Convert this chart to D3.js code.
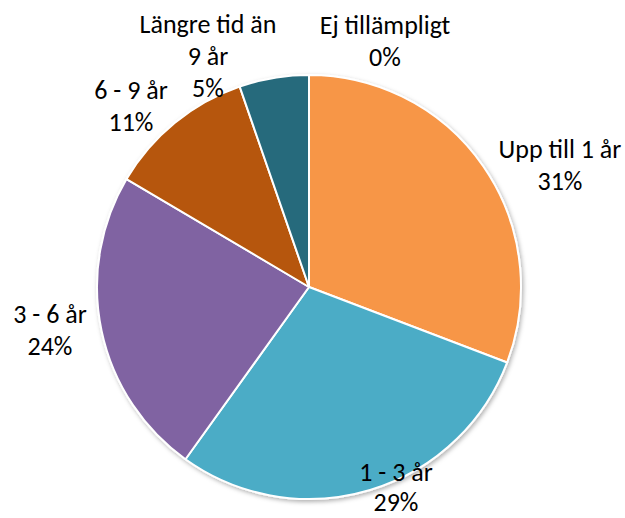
<!DOCTYPE html>
<html>
<head>
<meta charset="utf-8">
<script src="https://cdn.jsdelivr.net/npm/d3@7/dist/d3.min.js"></script>
<style>
  html, body { margin: 0; padding: 0; background: #ffffff; }
  svg { display: block; }
  text { font-family: Carlito, Lato, "Liberation Sans", sans-serif; fill: #000; }
</style>
</head>
<body>
<svg id="chart" width="625" height="518"></svg>
<script>
const categories = ["Upp till 1 år", "1 - 3 år", "3 - 6 år", "6 - 9 år", "Längre tid än 9 år", "Ej tillämpligt"];
const values = [30.8, 29.1, 23.6, 11.2, 5.3, 0];
const percentLabels = ["31%", "29%", "24%", "11%", "5%", "0%"];
const labelLines = [["Upp till 1 år"], ["1 - 3 år"], ["3 - 6 år"], ["6 - 9 år"], ["Längre tid än", "9 år"], ["Ej tillämpligt"]];
const colors = ["#F79646", "#4BACC6", "#8064A2", "#B65708", "#276A7C", "#772C2A"];

// layout (label anchor: center x, first baseline y, line height)
const labelPos = [[560, 158, 32], [396, 481, 30], [50, 323, 32], [131, 99, 32], [208, 33, 32], [385, 34, 32]];
const cx = 309, cy = 287, R = 212;

const svg = d3.select("#chart");
const defs = svg.append("defs");
const f = defs.append("filter").attr("id", "sh").attr("x", "-10%").attr("y", "-10%").attr("width", "120%").attr("height", "120%");
f.append("feDropShadow").attr("dx", 1.5).attr("dy", 2).attr("stdDeviation", 2).attr("flood-color", "#000").attr("flood-opacity", 0.3);

const pie = d3.pie().sort(null).value(d => d);
const arc = d3.arc().innerRadius(0).outerRadius(R);
const arcs = pie(values);

const g = svg.append("g").attr("transform", `translate(${cx},${cy})`);
g.append("g").attr("filter", "url(#sh)")
  .selectAll("path").data(arcs.filter(d => d.value > 0)).join("path")
  .attr("d", arc)
  .attr("fill", d => colors[d.index])
  .attr("stroke", "#ffffff")
  .attr("stroke-width", 2)
  .attr("stroke-linejoin", "round");

const lbl = svg.append("g");
categories.forEach((c, i) => {
  const lines = labelLines[i].concat([percentLabels[i]]);
  const t = lbl.append("text")
    .attr("text-anchor", "middle")
    .attr("font-size", 26);
  lines.forEach((ln, j) => {
    t.append("tspan").attr("x", labelPos[i][0]).attr("y", labelPos[i][1] + j * labelPos[i][2]).text(ln);
  });
});
</script>
</body>
</html>
